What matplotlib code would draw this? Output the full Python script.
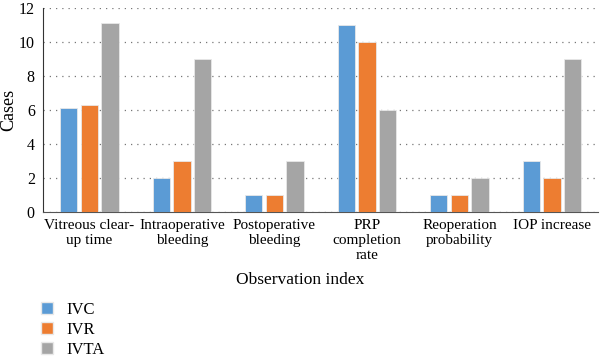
import numpy as np
import matplotlib.pyplot as plt
from matplotlib.patches import Patch

plt.rcParams['font.family'] = ['Liberation Serif', 'DejaVu Serif']

# 数据
categories = ['Vitreous clear-\nup time', 'Intraoperative\nbleeding', 'Postoperative\nbleeding',
              'PRP\ncompletion\nrate', 'Reoperation\nprobability', 'IOP increase']
ivc = [6.1, 2, 1, 11, 1, 3]
ivr = [6.3, 3, 1, 10, 1, 2]
ivta = [11.1, 9, 3, 6, 2, 9]
series_names = ['IVC', 'IVR', 'IVTA']
colors = ['#5B9BD5', '#ED7D31', '#A5A5A5']

fig = plt.figure(figsize=(6, 3.6), dpi=100)
ax = fig.add_axes([0.072, 0.411, 0.925, 0.567])

x = np.arange(len(categories))
w = 0.185
for i, (vals, c) in enumerate(zip([ivc, ivr, ivta], colors)):
    ax.bar(x + (i - 1) * 0.222, vals, width=w, color=c, edgecolor='#e8e8e8', linewidth=0.6, zorder=3)

ax.set_xlim(-0.5, len(categories) - 0.5)
ax.set_ylim(0, 12)
ax.set_yticks(range(0, 13, 2))
ax.set_xticks(x)
ax.set_xticklabels(categories, fontsize=11, linespacing=1.2)
ax.tick_params(axis='y', labelsize=11.5, length=0, pad=6)
ax.tick_params(axis='x', length=0, pad=5)
ax.grid(axis='y', linestyle=(0, (1, 4)), color='#777777', linewidth=0.9, zorder=0)

for s in ['top', 'right']:
    ax.spines[s].set_visible(False)
ax.spines['left'].set_color('#333333')
ax.spines['bottom'].set_color('#555555')

fig.text(0.014, 0.694, 'Cases', rotation=90, fontsize=13, ha='center', va='center')
fig.text(0.5, 1 - 280 / 360, 'Observation index', fontsize=12.5, ha='center', va='center')

handles = [Patch(facecolor=c, edgecolor='#e8e8e8') for c in colors]
fig.legend(handles, series_names, loc='upper left', bbox_to_anchor=(0.068, 0.162),
           frameon=False, fontsize=12, handlelength=0.75, handleheight=0.75,
           labelspacing=0.25, handletextpad=0.8, borderaxespad=0, borderpad=0)

fig.savefig('out.png', dpi=100)
